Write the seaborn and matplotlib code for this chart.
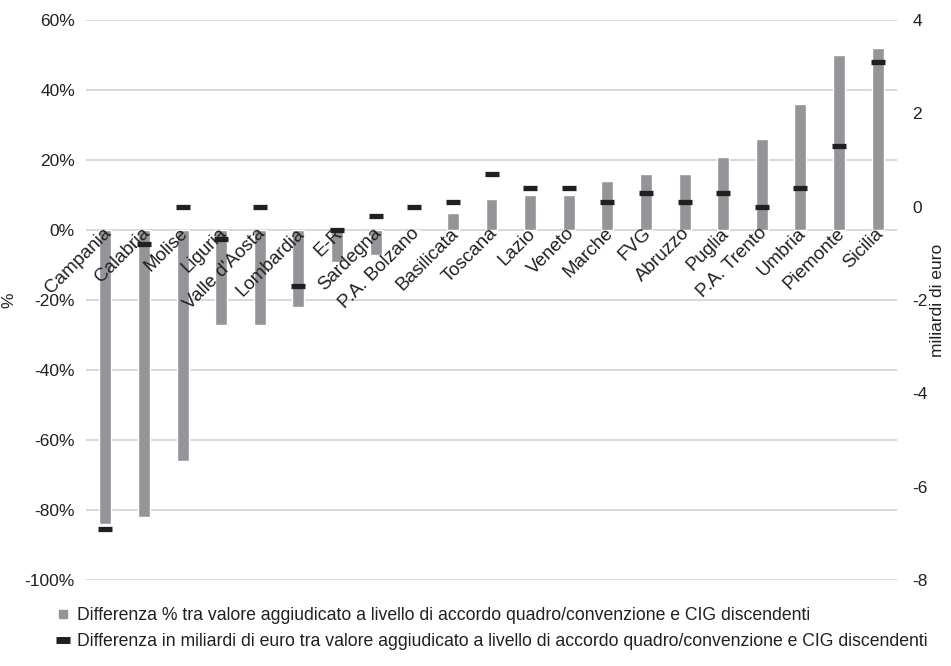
import numpy as np
import matplotlib
matplotlib.use('Agg')
import matplotlib.pyplot as plt
import matplotlib.transforms as mtransforms
import seaborn as sns
from matplotlib.lines import Line2D
from matplotlib.ticker import FuncFormatter

regions = ['Campania', 'Calabria', 'Molise', 'Liguria', "Valle d'Aosta", 'Lombardia',
           'E-R', 'Sardegna', 'P.A. Bolzano', 'Basilicata', 'Toscana', 'Lazio', 'Veneto',
           'Marche', 'FVG', 'Abruzzo', 'Puglia', 'P.A. Trento', 'Umbria', 'Piemonte', 'Sicilia']
diff_pct = [-84, -82, -66, -27, -27, -22, -9, -7, 0, 5, 9, 10, 10, 14, 16, 16, 21, 26, 36, 50, 52]
diff_mld = [-6.9, -0.8, 0.0, -0.7, 0.0, -1.7, -0.5, -0.2, 0.0, 0.1, 0.7, 0.4, 0.4, 0.1, 0.3, 0.1,
            0.3, 0.0, 0.4, 1.3, 3.1]

label_pct = 'Differenza % tra valore aggiudicato a livello di accordo quadro/convenzione e CIG discendenti'
label_mld = 'Differenza in miliardi di euro tra valore aggiudicato a livello di accordo quadro/convenzione e CIG discendenti'

sns.set_style('white')
plt.rcParams['font.family'] = ['Liberation Sans', 'DejaVu Sans']
plt.rcParams['font.size'] = 12
plt.rcParams['axes.unicode_minus'] = False

bar_col = '#939598'
dash_col = '#231f20'
text_col = '#231f20'

fig = plt.figure(figsize=(9.51, 6.66), dpi=100)
ax = fig.add_axes([86 / 951, 1 - 580 / 666, 811 / 951, 560 / 666])

sns.barplot(x=regions, y=diff_pct, color=bar_col, width=0.31, saturation=1, ax=ax, zorder=2)
ax.set_xlim(-0.5, len(regions) - 0.5)
ax.set_ylim(-100, 60)
ax.set_yticks(np.arange(-100, 61, 20))
ax.yaxis.set_major_formatter(FuncFormatter(lambda v, p: f'{v:.0f}%'))
# gridlines behind the bars, category labels on top of them
ax.set_axisbelow(False)
for t in ax.get_yticks():
    ax.axhline(t, color='#d9d9d9', linewidth=1.5, zorder=0)
for s in ax.spines.values():
    s.set_visible(False)
ax.spines['bottom'].set_position(('data', 0))
ax.tick_params(axis='x', length=0, pad=2, labelsize=13.5, colors=text_col)
ax.tick_params(axis='y', length=0, pad=8, labelsize=12.5, colors=text_col)
shift = mtransforms.ScaledTranslation(3 / 100, 2 / 100, fig.dpi_scale_trans)
for lab in ax.get_xticklabels():
    lab.set_rotation(45)
    lab.set_ha('right')
    lab.set_va('center')
    lab.set_rotation_mode('anchor')
    lab.set_transform(lab.get_transform() + shift)
ax.set_xlabel('')
ax.set_ylabel('%', fontsize=12.5, color=text_col, labelpad=6)

ax2 = ax.twinx()
sns.scatterplot(x=np.arange(len(regions)), y=diff_mld, marker='_', s=100, linewidth=3.8,
                color=dash_col, ax=ax2, legend=False, zorder=3)
ax2.set_ylim(-8, 4)
ax2.set_yticks(np.arange(-8, 5, 2))
for s in ax2.spines.values():
    s.set_visible(False)
ax2.tick_params(axis='y', length=0, pad=11, labelsize=12.5, colors=text_col)
ax2.set_ylabel('miliardi di euro', fontsize=12.5, color=text_col, labelpad=2)

handles = [
    Line2D([], [], linestyle='none', marker='s', markersize=6, color=bar_col),
    Line2D([], [], linestyle='none', marker='_', markersize=10, markeredgewidth=5, color=dash_col),
]
fig.legend(handles, [label_pct, label_mld], loc='lower left', bbox_to_anchor=(40 / 951, 0.0),
           frameon=False, fontsize=12.7, handlelength=0.8, handletextpad=0.4, labelspacing=0.5,
           labelcolor=text_col)

fig.savefig('out.png', dpi=100)
